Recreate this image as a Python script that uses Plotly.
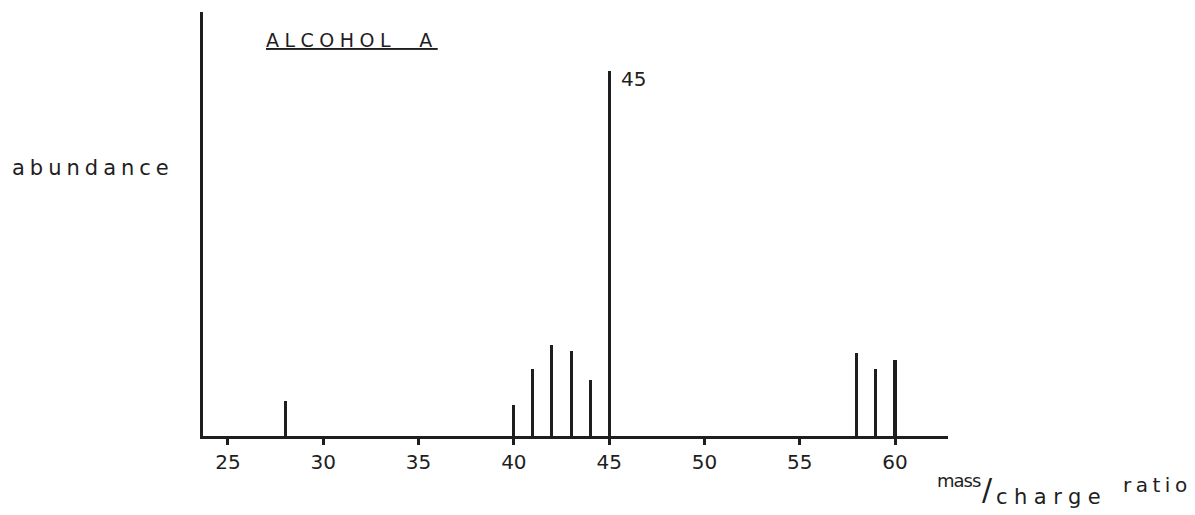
import plotly.graph_objects as go

# ---- data ----
mz = [28, 40, 41, 42, 43, 44, 45, 58, 59, 60]
abundance = [9.7, 8.5, 18.4, 24.9, 23.4, 15.3, 100.0, 22.8, 18.5, 20.7]
x_ticks = [25, 30, 35, 40, 45, 50, 55, 60]
x_tick_labels = ["25", "30", "35", "40", "45", "50", "55", "60"]
title_text = "ALCOHOL  A"
y_label = "abundance"
base_peak = 45

INK = "#1e1e1e"
FONT = "DejaVu Sans"

OFF = 8  # default page body margin
W, H = 1195 - OFF, 515 - OFF
L, R, T, B = 195, 247, 4, 79
pw, ph = W - L - R, H - T - B


def px(x):
    return (x - OFF - L) / pw


def py(y):
    return (H - B - (y - OFF)) / ph


fig = go.Figure()
fig.add_trace(go.Bar(
    x=mz, y=abundance, width=0.16,
    marker=dict(color=INK, line=dict(width=0)),
    showlegend=False, hoverinfo="x+y",
))

annotations = [
    dict(text=f'<span style="letter-spacing:5.5px"><u>{title_text}</u></span>',
         xref="paper", yref="paper",
         x=px(264), y=py(40), xanchor="left", yanchor="middle",
         showarrow=False, font=dict(family=FONT, size=19, color=INK)),
    dict(text=f'<span style="letter-spacing:5px">{y_label}</span>',
         xref="paper", yref="paper", x=px(10), y=py(168),
         xanchor="left", yanchor="middle", showarrow=False,
         font=dict(family=FONT, size=21, color=INK)),
    dict(text=str(base_peak), xref="x", yref="y",
         x=base_peak, y=abundance[mz.index(base_peak)],
         xanchor="left", yanchor="top", xshift=10, yshift=6,
         showarrow=False, font=dict(family=FONT, size=20, color=INK)),
    dict(text='<span style="letter-spacing:-1px">mass</span>',
         xref="paper", yref="paper", x=px(935), y=py(480),
         xanchor="left", yanchor="middle", showarrow=False,
         font=dict(family=FONT, size=18, color=INK)),
    dict(text="/", xref="paper", yref="paper", x=px(980), y=py(489),
         xanchor="left", yanchor="middle", showarrow=False,
         font=dict(family=FONT, size=30, color=INK)),
    dict(text='<span style="letter-spacing:6.5px">charge</span>',
         xref="paper", yref="paper", x=px(994), y=py(497),
         xanchor="left", yanchor="middle", showarrow=False,
         font=dict(family=FONT, size=21, color=INK)),
    dict(text='<span style="letter-spacing:4.5px">ratio</span>',
         xref="paper", yref="paper", x=px(1121), y=py(485),
         xanchor="left", yanchor="middle", showarrow=False,
         font=dict(family=FONT, size=20, color=INK)),
]

fig.update_layout(
    width=W, height=H, autosize=False,
    margin=dict(l=L, r=R, t=T, b=B, pad=0),
    paper_bgcolor="white", plot_bgcolor="white",
    annotations=annotations,
    xaxis=dict(range=[23.69, 62.78], tickmode="array", tickvals=x_ticks,
               ticktext=x_tick_labels, ticks="outside", ticklen=6,
               tickwidth=2.5, tickcolor=INK, showline=True, linewidth=3,
               linecolor=INK, showgrid=False, zeroline=False,
               tickfont=dict(family=FONT, size=20, color=INK),
               ticklabelstandoff=0, fixedrange=True),
    yaxis=dict(range=[0, 116.2], showline=True, linewidth=3, linecolor=INK,
               showticklabels=False, ticks="", showgrid=False,
               zeroline=False, fixedrange=True),
    bargap=0,
)

fig.write_html("out.html")
